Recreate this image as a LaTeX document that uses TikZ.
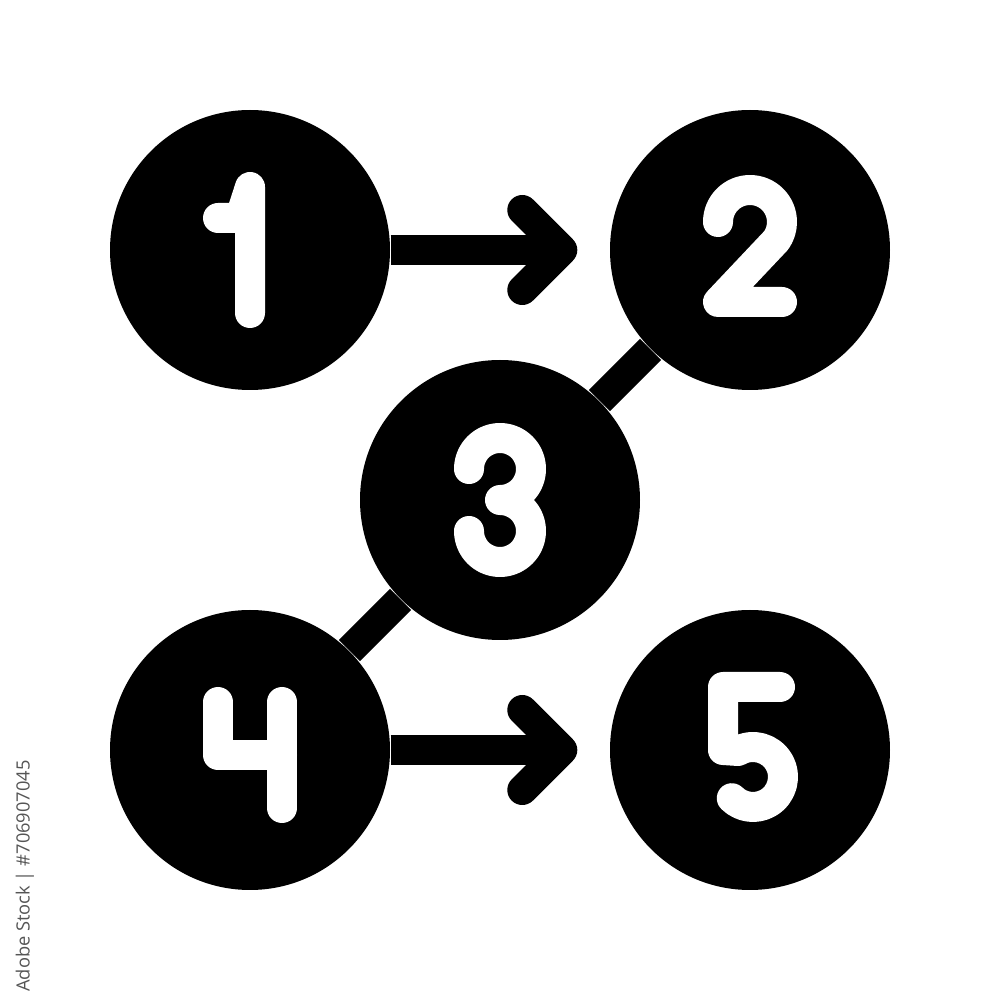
\documentclass[tikz,border=0pt]{standalone}
\usepackage{fontspec}
\usepackage{tikz}
\usetikzlibrary{positioning}
\newfontfamily\stockfont{Open Sans}
\definecolor{tagGray}{HTML}{555555}
\tikzset{ball/.style = {fill, circle, inner sep = 0, minimum size = 2.8cm}}
\tikzset{link/.style = {line width = 3mm}}
\tikzset{barb/.style = {line width = 3mm, line cap = round, line join = round}}
\tikzset{digit/.style = {white, line width = 3mm, line cap = round, line join = round}}

\begin{document}
\begin{tikzpicture}[x=0.1mm, y=0.1mm]
    \useasboundingbox (0, 0) rectangle (1000, 1000);

    \node [ball] (n1) at (250, 750) {};
    \node [ball] (n2) at (750, 750) {};
    \node [ball] (n3) at (500, 500) {};
    \node [ball] (n4) at (250, 250) {};
    \node [ball] (n5) at (750, 250) {};

    % arrows
    \coordinate (a12) at ([xshift=-4.7mm]n2.west);
    \coordinate (a45) at ([xshift=-4.7mm]n5.west);
    \draw [link] (n1) -- (a12);
    \draw [barb] ([shift={(-40, 40)}]a12) -- (a12) -- ([shift={(-40, -40)}]a12);
    \draw [link] (n4) -- (a45);
    \draw [barb] ([shift={(-40, 40)}]a45) -- (a45) -- ([shift={(-40, -40)}]a45);

    % diagonals
    \draw [link] (n2) -- (n3);
    \draw [link] (n3) -- (n4);

    % numbers
    \draw [digit, shift={(n1.center)}] (-32, 32) -- (-10, 32) -- (0, 63) -- (0, -63);
    \draw [digit, shift={(n2.center)}] (-32, 28) arc [start angle=180, end angle=-35, radius=32] -- (-32, -52) -- (32, -52);
    \draw [digit, shift={(n3.center)}] (-31, 31) arc [start angle=180, end angle=-90, radius=31] arc [start angle=90, end angle=-180, radius=31];
    \draw [digit, shift={(n4.center)}] (-32, 48) -- (-32, -5) -- (32, -5) (32, 48) -- (32, -58);
    \draw [digit, shift={(n5.center)}] (30, 63) -- (-27, 63) -- (-27, 0) -- (-12, -1) arc [start angle=120, end angle=-135, radius=30];

    \node [rotate=90, text=tagGray, font=\stockfont\fontsize{5.2}{6}\selectfont] (tag) at (25, 124) {Adobe Stock | \#706907045};

\end{tikzpicture}
\end{document}
